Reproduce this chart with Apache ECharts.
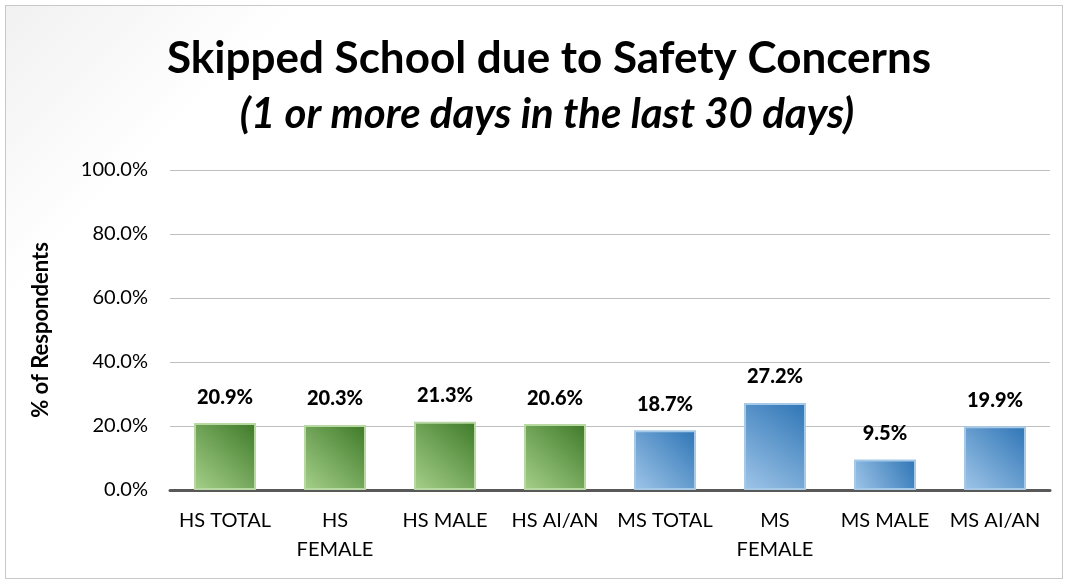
<!DOCTYPE html>
<html>
<head>
<meta charset="utf-8">
<script src="https://cdn.jsdelivr.net/npm/echarts@6/dist/echarts.min.js"></script>
<style>
  html, body { margin: 0; padding: 0; background: #fff; }
  #frame { position: absolute; left: 5px; top: 5px; width: 1058px; height: 574px;
           border: 1px solid #c8c8c8; box-sizing: border-box;
           background: linear-gradient(135deg, #f1f1f1 0%, #ffffff 18%, #ffffff 100%); }
  #container { position: absolute; left: 0; top: 0; width: 1069px; height: 580px; }
</style>
</head>
<body>
<div id="frame"></div>
<div id="container"></div>
<script>
    var categories = ['HS TOTAL', 'HS\nFEMALE', 'HS MALE', 'HS AI/AN', 'MS TOTAL', 'MS\nFEMALE', 'MS MALE', 'MS AI/AN'];
    var values = [20.9, 20.3, 21.3, 20.6, 18.7, 27.2, 9.5, 19.9];
    var groups = ['HS', 'HS', 'HS', 'HS', 'MS', 'MS', 'MS', 'MS'];

    var fonts = 'Lato, "Open Sans", sans-serif';

    function barStyle(group) {
        var dark = group == 'HS' ? '#3e7a28' : '#2e75b6';
        var light = group == 'HS' ? '#a6d08a' : '#9fc5e8';
        var edge = group == 'HS' ? '#b8d8a2' : '#a7c9e8';
        return {
            color: new echarts.graphic.LinearGradient(0, 1, 1, 0, [
                { offset: 0, color: light },
                { offset: 1, color: dark }
            ]),
            borderColor: edge,
            borderWidth: 2
        };
    }

    var sData = [];
    for (var i = 0; i < values.length; i++) {
        sData.push({ value: values[i], itemStyle: barStyle(groups[i]) });
    }

    var dom = document.getElementById('container');
    var myChart = echarts.init(dom, null, { renderer: 'canvas' });
    var option = {
        backgroundColor: 'transparent',
        title: [{
            text: 'Skipped School due to Safety Concerns',
            left: 544,
            textAlign: 'center',
            top: 32,
            textStyle: { fontFamily: fonts, fontSize: 44, fontWeight: 'bold', color: '#000' }
        }, {
            text: '(1 or more days in the last 30 days)',
            left: 542,
            textAlign: 'center',
            top: 88,
            textStyle: { fontFamily: fonts, fontSize: 42, fontWeight: 'bold', fontStyle: 'italic', color: '#000' }
        }],
        grid: { left: 170, right: 19, top: 170, bottom: 90, containLabel: false },
        xAxis: {
            type: 'category',
            data: categories,
            axisLine: { lineStyle: { color: '#595959', width: 3 } },
            axisTick: { show: false },
            axisLabel: { fontFamily: fonts, fontSize: 20, color: '#000', lineHeight: 29, margin: 16, interval: 0 }
        },
        yAxis: {
            type: 'value',
            min: 0,
            max: 100,
            interval: 20,
            name: '% of Respondents',
            nameLocation: 'middle',
            nameGap: 118,
            nameTextStyle: { fontFamily: fonts, fontSize: 22, fontWeight: 'bold', color: '#000' },
            axisLine: { show: false },
            axisTick: { show: false },
            axisLabel: {
                fontFamily: fonts, fontSize: 20, color: '#000', margin: 22,
                formatter: function (v) { return v.toFixed(1) + '%'; }
            },
            splitLine: { lineStyle: { color: '#bfbfbf', width: 1 } }
        },
        series: [{
            type: 'bar',
            data: sData,
            barWidth: 62,
            label: {
                show: true,
                position: 'top',
                distance: 16,
                fontFamily: fonts,
                fontSize: 20,
                fontWeight: 900,
                color: '#000',
                formatter: function (p) { return p.value.toFixed(1) + '%'; }
            }
        }]
    };
    if (option && typeof option === "object") {
        myChart.setOption(option, true);
    }
</script>
</body>
</html>
